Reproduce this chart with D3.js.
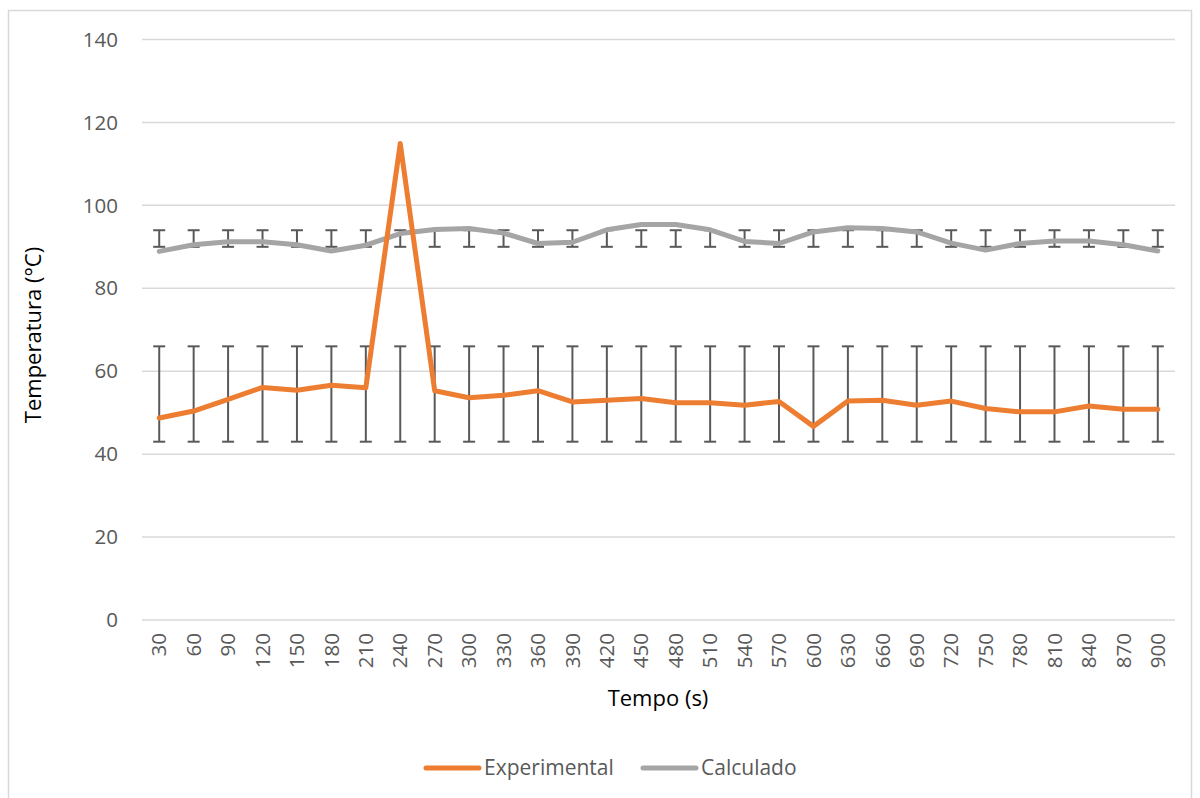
<!DOCTYPE html>
<html>
<head>
<meta charset="utf-8">
<script src="https://cdn.jsdelivr.net/npm/d3@7"></script>
<style>
  body { margin: 0; background: #fff; }
  text { font-family: "Open Sans", "Noto Sans", sans-serif; }
</style>
</head>
<body>
<div id="chart"></div>
<script>
// data
let tempos = [30, 60, 90, 120, 150, 180, 210, 240, 270, 300, 330, 360, 390, 420, 450,
              480, 510, 540, 570, 600, 630, 660, 690, 720, 750, 780, 810, 840, 870, 900];
let experimental = [48.7, 50.4, 53.2, 56.1, 55.4, 56.6, 56.0, 114.9, 55.3, 53.6, 54.2, 55.3, 52.6, 53.0, 53.4,
                    52.4, 52.4, 51.8, 52.7, 46.7, 52.8, 53.0, 51.8, 52.8, 51.0, 50.2, 50.2, 51.6, 50.8, 50.8];
let calculado = [88.9, 90.5, 91.2, 91.2, 90.5, 89.0, 90.4, 93.2, 94.2, 94.4, 93.3, 90.8, 91.1, 94.1, 95.4,
                 95.4, 94.1, 91.3, 90.8, 93.6, 94.6, 94.4, 93.6, 90.9, 89.2, 90.8, 91.4, 91.4, 90.5, 89.0];
let expErrLow = tempos.map(() => 43);
let expErrHigh = tempos.map(() => 66);
let calErrLow = tempos.map(() => 90);
let calErrHigh = tempos.map(() => 94);
let yTicks = [0, 20, 40, 60, 80, 100, 120, 140];

let width = 1200, height = 798;
let svg = d3.select("#chart").append("svg")
  .attr("width", width)
  .attr("height", height);

// chart frame
svg.append("rect")
  .attr("x", 8.5).attr("y", 10.5)
  .attr("width", 1183).attr("height", 800)
  .attr("fill", "none")
  .attr("stroke", "#d9d9d9")
  .attr("stroke-width", 1.5);

let plotLeft = 142, plotRight = 1175, plotTop = 39.5, plotBottom = 620;

let x = d3.scaleBand().domain(tempos).range([plotLeft, plotRight]);
let y = d3.scaleLinear().domain([0, 140]).range([plotBottom, plotTop]);

// gridlines
svg.append("g")
  .selectAll("line")
  .data(yTicks)
  .join("line")
  .attr("x1", plotLeft).attr("x2", plotRight)
  .attr("y1", d => y(d)).attr("y2", d => y(d))
  .attr("stroke", "#d9d9d9")
  .attr("stroke-width", 1.5);

// y tick labels
svg.append("g")
  .selectAll("text")
  .data(yTicks)
  .join("text")
  .attr("x", 118)
  .attr("y", d => y(d))
  .attr("dy", "0.35em")
  .attr("text-anchor", "end")
  .attr("font-size", "20.5px")
  .attr("fill", "#595959")
  .text(d => d);

// x tick labels (rotated)
svg.append("g")
  .selectAll("text")
  .data(tempos)
  .join("text")
  .attr("transform", d => "translate(" + (x(d) + x.bandwidth() / 2) + ",633) rotate(-90)")
  .attr("dy", "0.35em")
  .attr("text-anchor", "end")
  .attr("font-size", "20.5px")
  .attr("fill", "#595959")
  .text(d => d);

// axis titles
svg.append("text")
  .attr("x", 658).attr("y", 706)
  .attr("text-anchor", "middle")
  .attr("font-size", "22px")
  .attr("fill", "#000")
  .text("Tempo (s)");
svg.append("text")
  .attr("transform", "translate(41,335) rotate(-90)")
  .attr("text-anchor", "middle")
  .attr("font-size", "22px")
  .attr("fill", "#000")
  .text("Temperatura (°C)");

// error bars
function errorBars(low, high){
  let g = svg.append("g")
    .attr("stroke", "#595959")
    .attr("stroke-width", 2);
  let cx = d => x(d) + x.bandwidth() / 2;
  g.selectAll(".v").data(tempos).join("line")
    .attr("x1", cx).attr("x2", cx)
    .attr("y1", (d, i) => y(low[i])).attr("y2", (d, i) => y(high[i]));
  g.selectAll(".lo").data(tempos).join("line")
    .attr("x1", d => cx(d) - 6).attr("x2", d => cx(d) + 6)
    .attr("y1", (d, i) => y(low[i])).attr("y2", (d, i) => y(low[i]));
  g.selectAll(".hi").data(tempos).join("line")
    .attr("x1", d => cx(d) - 6).attr("x2", d => cx(d) + 6)
    .attr("y1", (d, i) => y(high[i])).attr("y2", (d, i) => y(high[i]));
}
errorBars(calErrLow, calErrHigh);
errorBars(expErrLow, expErrHigh);

let line = d3.line()
  .x((d, i) => x(tempos[i]) + x.bandwidth() / 2)
  .y(d => y(d));

svg.append("path")
  .datum(calculado)
  .attr("d", line)
  .attr("fill", "none")
  .attr("stroke", "#a5a5a5")
  .attr("stroke-width", 5)
  .attr("stroke-linejoin", "round")
  .attr("stroke-linecap", "round");

svg.append("path")
  .datum(experimental)
  .attr("d", line)
  .attr("fill", "none")
  .attr("stroke", "#ed7d31")
  .attr("stroke-width", 5)
  .attr("stroke-linejoin", "round")
  .attr("stroke-linecap", "round");

// legend
let legend = [
  {name: "Experimental", color: "#ed7d31", x: 426},
  {name: "Calculado", color: "#a5a5a5", x: 643}
];
legend.forEach(l => {
  svg.append("line")
    .attr("x1", l.x).attr("x2", l.x + 53)
    .attr("y1", 768).attr("y2", 768)
    .attr("stroke", l.color)
    .attr("stroke-width", 5)
    .attr("stroke-linecap", "round");
  svg.append("text")
    .attr("x", l.x + 58).attr("y", 768)
    .attr("dy", "0.35em")
    .attr("font-size", "21px")
    .attr("fill", "#595959")
    .text(l.name);
});
</script>
</body>
</html>
